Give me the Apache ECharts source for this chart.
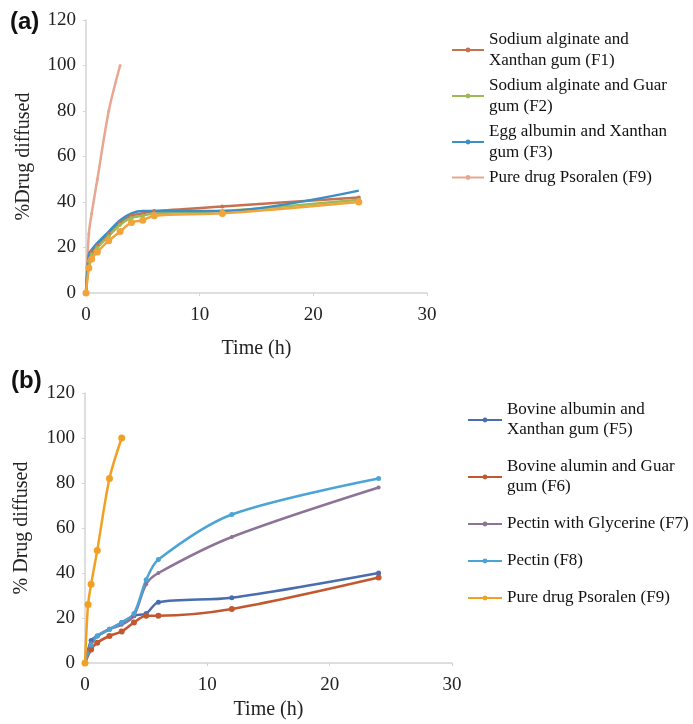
<!DOCTYPE html>
<html>
<head>
<meta charset="utf-8">
<script src="https://cdn.jsdelivr.net/npm/echarts@6/dist/echarts.min.js"></script>
<style>
  html, body { margin: 0; padding: 0; background: #fff; }
  #chart { width: 693px; height: 724px; }
</style>
</head>
<body>
<div id="chart"></div>
<script>
// panel (a)
const timeA = [0, 0.25, 0.5, 1, 2, 3, 4, 5, 6, 12, 24]
const f1A = [0, 15, 18, 21, 26, 31, 34, 35, 36, 38, 42]
const f2A = [0, 14, 17, 20, 25, 30, 33, 34, 35, 36, 41]
const f3A = [0, 17, 19, 22, 27, 32, 35, 36, 36, 36, 45]
const otherA = [0, 11, 15, 18, 23, 27, 31, 32, 34, 35, 40]
const timeDrug = [0, 0.25, 0.5, 1, 2, 3]
const f9A = [0, 26, 35, 50, 80, 100]

// panel (b)
const timeB = [0, 0.5, 1, 2, 3, 4, 5, 6, 12, 24]
const f5B = [0, 10, 12, 15, 18, 21, 22, 27, 29, 40]
const f6B = [0, 6, 9, 12, 14, 18, 21, 21, 24, 38]
const f7B = [0, 9, 12, 15, 17, 21, 35, 40, 56, 78]
const f8B = [0, 8, 12, 15, 18, 22, 37, 46, 66, 82]
const f9B = [0, 26, 35, 50, 82, 100]

const namesA = ['Sodium alginate and\nXanthan gum (F1)', 'Sodium alginate and Guar\ngum (F2)',
  'Egg albumin and Xanthan\ngum (F3)', 'Pure drug Psoralen (F9)']
// trailing space keeps the second F9 entry apart from the first one
const namesB = ['Bovine albumin and\nXanthan gum (F5)', 'Bovine alumin and Guar\ngum (F6)',
  'Pectin with Glycerine (F7)', 'Pectin (F8)', 'Pure drug Psoralen (F9) ']

const serif = 'Liberation Serif'

function pairs(xs, ys) {
  return xs.map((x, i) => [x, ys[i]])
}

function mkSeries(name, xs, ys, color, idx, symbolSize) {
  return {
    type: 'line',
    name: name,
    xAxisIndex: idx,
    yAxisIndex: idx,
    smooth: 0.3,
    symbol: 'circle',
    symbolSize: symbolSize,
    showSymbol: symbolSize > 0,
    lineStyle: { color: color, width: 2.5 },
    itemStyle: { color: color },
    data: pairs(xs, ys)
  }
}

function mkX(idx, nameGap) {
  return {
    type: 'value',
    gridIndex: idx,
    min: 0,
    max: 30,
    interval: 10,
    name: 'Time (h)',
    nameLocation: 'middle',
    nameGap: nameGap,
    nameTextStyle: { fontFamily: serif, fontSize: 20, color: '#222' },
    axisLine: { show: true, lineStyle: { color: '#d4d4d4', width: 1.5 } },
    axisTick: { show: true, length: 3, lineStyle: { color: '#d4d4d4' } },
    axisLabel: { fontFamily: serif, fontSize: 19, color: '#222', margin: 13 },
    splitLine: { show: false }
  }
}

function mkY(idx, name, nameGap) {
  return {
    type: 'value',
    gridIndex: idx,
    min: 0,
    max: 120,
    interval: 20,
    name: name,
    nameLocation: 'middle',
    nameGap: nameGap,
    nameTextStyle: { fontFamily: serif, fontSize: 20, color: '#222' },
    axisLine: { show: true, lineStyle: { color: '#d4d4d4', width: 1.5 } },
    axisTick: { show: true, length: 3, lineStyle: { color: '#d4d4d4' } },
    axisLabel: { fontFamily: serif, fontSize: 19, color: '#222', margin: 10 },
    splitLine: { show: false }
  }
}

const option = {
  animation: false,
  backgroundColor: '#fff',
  title: [
    { text: '(a)', left: 5, top: 5, textStyle: { fontFamily: 'Liberation Sans', fontSize: 24, fontWeight: 'bold', color: '#111' } },
    { text: '(b)', left: 6, top: 364, textStyle: { fontFamily: 'Liberation Sans', fontSize: 24, fontWeight: 'bold', color: '#111' } }
  ],
  grid: [
    { left: 86, right: 266, top: 20, bottom: 431 },
    { left: 85, right: 241, top: 393, bottom: 61 }
  ],
  xAxis: [mkX(0, 46), mkX(1, 37)],
  yAxis: [mkY(0, '%Drug diffused', 52), mkY(1, '% Drug diffused', 53)],
  legend: [
    {
      orient: 'vertical',
      left: 446,
      top: 24,
      itemGap: 4,
      itemWidth: 32,
      itemHeight: 6,
      textStyle: { fontFamily: serif, fontSize: 17, color: '#111', lineHeight: 21 },
      data: namesA
    },
    {
      orient: 'vertical',
      left: 462,
      top: 395,
      itemGap: 17,
      itemWidth: 34,
      itemHeight: 6,
      textStyle: { fontFamily: serif, fontSize: 17, color: '#111', lineHeight: 20 },
      data: namesB
    }
  ],
  series: [
    mkSeries(namesA[3], timeDrug, f9A, '#e9a690', 0, 3),
    mkSeries(namesA[0], timeA, f1A, '#c7714f', 0, 4),
    mkSeries(namesA[1], timeA, f2A, '#9bbb59', 0, 4),
    mkSeries(namesA[2], timeA, f3A, '#3b8fc6', 0, 0),
    mkSeries('other', timeA, otherA, '#f2a33a', 0, 7),
    mkSeries(namesB[0], timeB, f5B, '#4a6db0', 1, 5),
    mkSeries(namesB[1], timeB, f6B, '#c2582f', 1, 6),
    mkSeries(namesB[2], timeB, f7B, '#8d7397', 1, 4),
    mkSeries(namesB[3], timeB, f8B, '#4aa4d6', 1, 5),
    mkSeries(namesB[4], timeDrug, f9B, '#f2a024', 1, 7)
  ]
}

const myChart = echarts.init(document.getElementById('chart'))
myChart.setOption(option)
</script>
</body>
</html>
